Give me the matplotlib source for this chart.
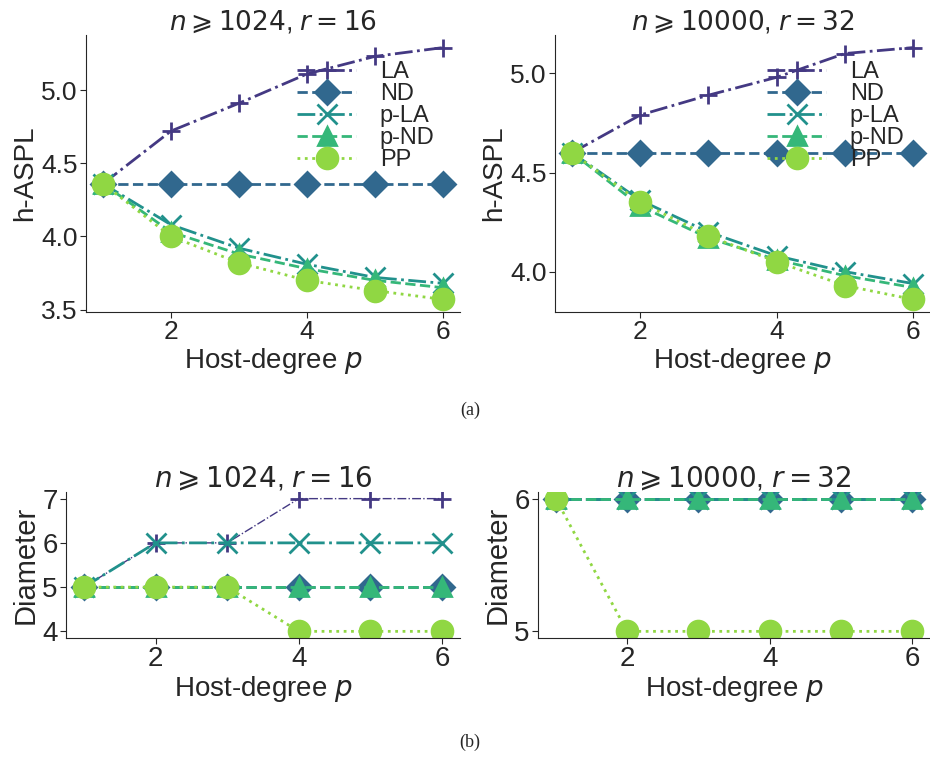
import matplotlib
matplotlib.use("Agg")
import matplotlib.pyplot as plt
import seaborn as sns

sns.set_style("ticks")
plt.rcParams['font.family'] = ['Liberation Sans', 'DejaVu Sans']
plt.rcParams['mathtext.fontset'] = 'dejavusans'

# datos
p = [1, 2, 3, 4, 5, 6]
etiquetas = ["LA", "ND", "p-LA", "p-ND", "PP"]

aspl_1024 = {
    "LA":   [4.36, 4.72, 4.91, 5.11, 5.23, 5.29],
    "ND":   [4.36, 4.36, 4.36, 4.36, 4.36, 4.36],
    "p-LA": [4.36, 4.08, 3.92, 3.81, 3.72, 3.68],
    "p-ND": [4.36, 4.03, 3.88, 3.78, 3.70, 3.65],
    "PP":   [4.36, 4.00, 3.82, 3.70, 3.63, 3.57],
}
aspl_10000 = {
    "LA":   [4.60, 4.79, 4.89, 4.98, 5.10, 5.13],
    "ND":   [4.60, 4.60, 4.60, 4.60, 4.60, 4.60],
    "p-LA": [4.60, 4.36, 4.20, 4.08, 4.00, 3.94],
    "p-ND": [4.60, 4.33, 4.17, 4.06, 3.98, 3.92],
    "PP":   [4.60, 4.35, 4.18, 4.05, 3.93, 3.86],
}
diam_1024 = {
    "LA":   [5, 6, 6, 7, 7, 7],
    "ND":   [5, 5, 5, 5, 5, 5],
    "p-LA": [5, 6, 6, 6, 6, 6],
    "p-ND": [5, 5, 5, 5, 5, 5],
    "PP":   [5, 5, 5, 4, 4, 4],
}
diam_10000 = {
    "LA":   [6, 6, 6, 6, 6, 6],
    "ND":   [6, 6, 6, 6, 6, 6],
    "p-LA": [6, 6, 6, 6, 6, 6],
    "p-ND": [6, 6, 6, 6, 6, 6],
    "PP":   [6, 5, 5, 5, 5, 5],
}

colores = ["#443983", "#31688e", "#21918c", "#35b779", "#90d743"]
marcadores = ["+", "D", "x", "^", "o"]
estilos = ["-.", "--", "-.", "--", ":"]
tam = [13, 12, 14, 13, 15]

fig = plt.figure(figsize=(9.3, 7.58), dpi=100)

def px(x0, y0, x1, y1):
    W, H = 930.0, 758.0
    return [x0 / W, 1 - y1 / H, (x1 - x0) / W, (y1 - y0) / H]

def graficar(ax, datos, titulo, ylabel, leyenda, lw_la=2.0, fs=19):
    for i, k in enumerate(etiquetas):
        lw = lw_la if k == "LA" else 2.0
        ax.plot(p, datos[k], color=colores[i], marker=marcadores[i], ls=estilos[i],
                lw=lw, ms=tam[i], mew=2.0, label=k)
    ax.set_title(titulo, fontsize=fs, pad=4)
    ax.set_ylabel(ylabel, fontsize=fs + 1, labelpad=2)
    ax.set_xlabel("Host-degree $p$", fontsize=20, labelpad=1)
    ax.set_xticks([2, 4, 6])
    ax.tick_params(labelsize=fs, length=4, pad=2)
    sns.despine(ax=ax)
    if leyenda:
        ax.legend(loc="upper right", bbox_to_anchor=(0.957, 0.94), frameon=False,
                  fontsize=17, handlelength=2.5, handletextpad=1.0,
                  labelspacing=0.0, borderaxespad=0.0)

ax1 = fig.add_axes(px(86, 35, 460, 312))
graficar(ax1, aspl_1024, r"$n \geqslant 1024$, $r = 16$", "h-ASPL", True)
ax1.set_yticks([3.5, 4.0, 4.5, 5.0])

ax2 = fig.add_axes(px(555, 35, 930, 312))
graficar(ax2, aspl_10000, r"$n \geqslant 10000$, $r = 32$", "h-ASPL", True)
ax2.set_yticks([4.0, 4.5, 5.0])

ax3 = fig.add_axes(px(66, 492, 460, 638))
graficar(ax3, diam_1024, r"$n \geqslant 1024$, $r = 16$", "Diameter", False,
         lw_la=1.0, fs=20)
ax3.set_yticks([4, 5, 6, 7])

ax4 = fig.add_axes(px(538, 492, 930, 638))
graficar(ax4, diam_10000, r"$n \geqslant 10000$, $r = 32$", "Diameter", False, fs=20)
ax4.set_yticks([5, 6])

fig.text(470 / 930, 1 - 410 / 758, "(a)", family="Liberation Serif", fontsize=13,
         ha="center", va="center")
fig.text(470 / 930, 1 - 742 / 758, "(b)", family="Liberation Serif", fontsize=13,
         ha="center", va="center")

fig.savefig("out.png", dpi=100)
